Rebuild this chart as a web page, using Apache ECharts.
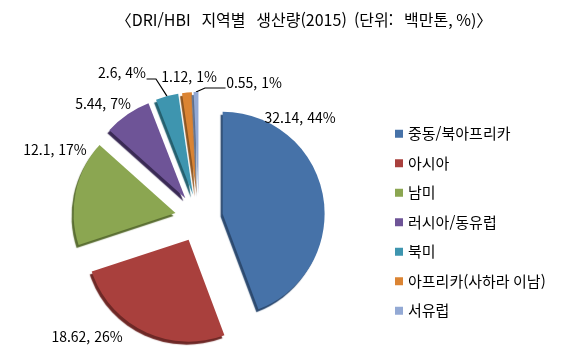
<!DOCTYPE html>
<html lang="ko">
<head>
<meta charset="utf-8">
<title>DRI/HBI 지역별 생산량(2015)</title>
<script src="https://cdn.jsdelivr.net/npm/echarts@6/dist/echarts.min.js"></script>
<style>
  html, body { margin: 0; padding: 0; background: #fff; }
  #chart { width: 570px; height: 354px; }
</style>
</head>
<body>
<div id="chart"></div>
<script>
// data (백만톤)
const regions = ['중동/북아프리카', '아시아', '남미', '러시아/동유럽', '북미', '아프리카(사하라 이남)', '서유럽'];
const output = [32.14, 18.62, 12.1, 5.44, 2.6, 1.12, 0.55];
const colors = ['#4672A8', '#A9403D', '#8BA651', '#6E5497', '#3E95AF', '#DB8433', '#93A9D4'];
const shade = ['#2c4a70', '#6e2826', '#5a6e32', '#3a2a55', '#24606f', '#8e5520', '#5e6f8c'];

// pie geometry
const CX = 199, CY = 218, R = 102, OFFSET = 24;

// where Excel put each label (text centre), and which ones got a leader line
const labelPos = [[300, 118], [87, 337], [55, 150], [103, 104], [122, 73], [189, 77], [254, 83]];
const withLine = [false, false, false, false, true, false, true];

const FONT = '"Noto Sans CJK KR", "Noto Sans", sans-serif';

// outer arc point of an exploded slice, at its mid angle
const total = output.reduce((a, b) => a + b, 0);
function arcPoint(i) {
  let before = 0;
  for (let k = 0; k < i; k++) before += output[k];
  const mid = (before + output[i] / 2) / total * Math.PI * 2;
  const d = R + OFFSET;
  return [CX + d * Math.sin(mid), CY - d * Math.cos(mid)];
}

const chart = echarts.init(document.getElementById('chart'), null, { renderer: 'canvas' });

chart.setOption({
  animation: false,
  title: {
    text: '〈DRI/HBI   지역별   생산량(2015)  (단위:   백만톤, %)〉',
    left: 299,
    top: 7,
    textAlign: 'center',
    textStyle: { fontFamily: FONT, fontSize: 16, fontWeight: 'normal', color: '#000' }
  },
  legend: {
    orient: 'vertical',
    left: 390,
    top: 120,
    itemWidth: 8,
    itemHeight: 8,
    itemGap: 12,
    icon: 'rect',
    selectedMode: false,
    textStyle: { fontFamily: FONT, fontSize: 15, color: '#000', lineHeight: 17.5 },
    data: regions
  },
  series: [{
    // the exploded slices
    type: 'pie',
    center: [CX, CY],
    radius: R,
    startAngle: 90,
    clockwise: true,
    selectedMode: 'multiple',
    selectedOffset: OFFSET,
    emphasis: { disabled: true },
    label: { show: false },
    labelLine: { show: false },
    data: regions.map((name, i) => ({
      name: name,
      value: output[i],
      selected: true,
      itemStyle: {
        color: colors[i],
        shadowColor: shade[i],
        shadowBlur: 1,
        shadowOffsetX: -2,
        shadowOffsetY: 3
      }
    }))
  }, {
    // same slices, invisible, only to carry the labels
    type: 'pie',
    center: [CX, CY],
    radius: R,
    startAngle: 90,
    clockwise: true,
    silent: true,
    percentPrecision: 0,
    avoidLabelOverlap: false,
    itemStyle: { color: 'rgba(0,0,0,0)' },
    label: {
      show: true,
      position: 'outside',
      formatter: '{c}, {d}%',
      fontFamily: FONT,
      fontSize: 14,
      color: '#000'
    },
    labelLine: { show: true, length: 6, length2: 6, lineStyle: { color: '#000', width: 1.2 } },
    labelLayout: function (p) {
      const i = p.dataIndex;
      const pos = labelPos[i];
      const out = { x: pos[0], y: pos[1], align: 'center', verticalAlign: 'middle' };
      if (withLine[i]) {
        const a = arcPoint(i);
        const w = p.labelRect.width / 2;
        const h = p.labelRect.height / 2;
        if (a[0] > pos[0]) {
          const ly = pos[1] + h - 1;
          out.labelLinePoints = [a, [a[0] - 11, ly], [pos[0] + w + 1, ly]];
        } else {
          const ly = pos[1] + 5;
          out.labelLinePoints = [a, [a[0] + 9, ly], [pos[0] - w - 1, ly]];
        }
      }
      return out;
    },
    data: regions.map((name, i) => ({
      name: name,
      value: output[i],
      labelLine: { show: withLine[i] }
    }))
  }]
});
</script>
</body>
</html>
